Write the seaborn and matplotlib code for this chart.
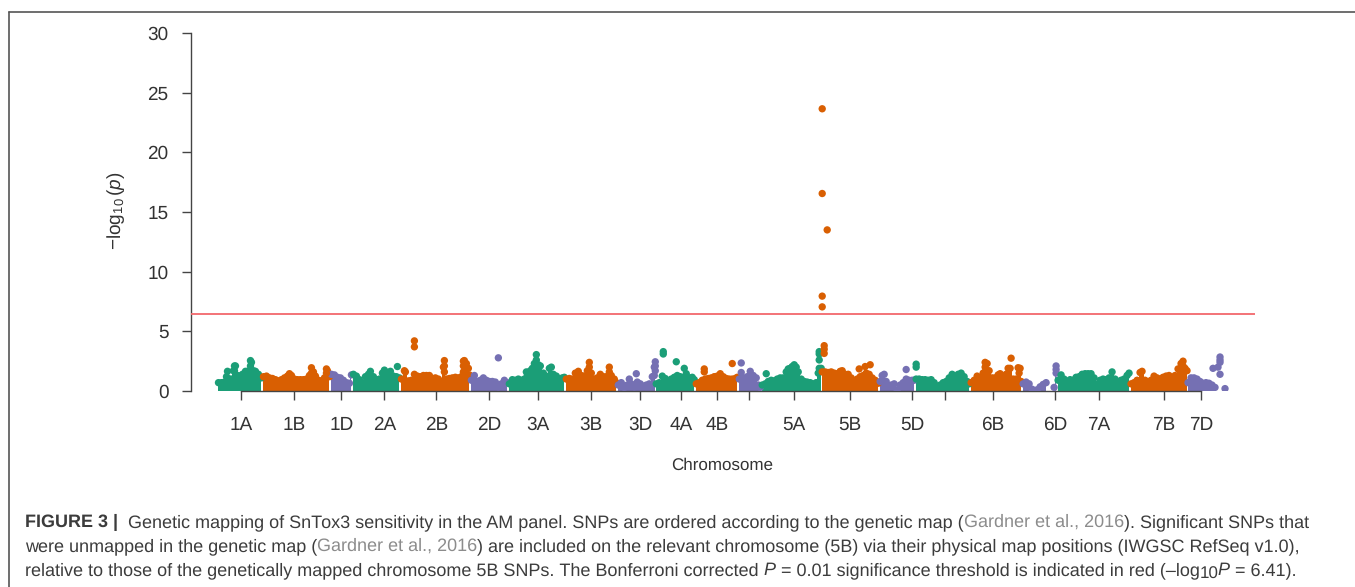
import matplotlib
matplotlib.use('Agg')
import matplotlib.pyplot as plt
from matplotlib.lines import Line2D
import numpy as np
import pandas as pd
import seaborn as sns

nan = float('nan')

# chromosome order and tick positions along the genetic map
chroms = ['1A', '1B', '1D', '2A', '2B', '2D', '3A', '3B', '3D', '4A', '4B', '4D',
          '5A', '5B', '5D', '6A', '6B', '6D', '7A', '7B', '7D']
tick_pos = [23, 76, 123, 166, 218, 271, 320, 373, 422, 463, 499, 531,
            576, 632, 694, 727, 775, 837, 881, 946, 983]
tick_labels = ['1A', '1B', '1D', '2A', '2B', '2D', '3A', '3B', '3D', '4A', '4B', '',
               '5A', '5B', '5D', '', '6B', '6D', '7A', '7B', '7D']

# upper edge of the SNP cloud per chromosome
pos_1A = [0, 3, 6, 8, 9, 11, 13, 15, 16, 17, 19, 21, 24, 27, 29, 31, 32, 33, 35, 37, 40, 43]
val_1A = [.7, .7, .75, 1.2, 1.65, 1.0, 1.0, 1.7, 2.1, 2.1, 1.3, 1.25, 1.4, 1.65, 1.65, 1.7, 2.55, 2.4, 1.7, 1.65, 1.4, 1.1]
pos_1B = [45, 48, 51, 54, 57, 60, 63, 66, 69, 71, 73, 76, 79, 82, 85, 88, 91, 93, 95, 97, 100, 103, 106, 108, 109, 111]
val_1B = [1.2, 1.25, 1.1, 1.05, .95, .85, .95, 1.1, 1.25, 1.45, 1.3, 1.0, .95, .95, .95, 1.0, 1.3, 1.95, 1.6, 1.25, .9, .85, 1.1, 1.85, 1.7, 1.2]
pos_1D = [113, 116, 119, 122, 125, 128, 131, 133]
val_1D = [1.4, 1.35, 1.15, 1.1, .9, .7, .65, 1.35]
pos_2A = [135, 138, 141, 144, 147, 150, 152, 155, 158, 161, 164, 166, 169, 172, 175, 178, 181]
val_2A = [1.4, 1.25, .95, .7, 1.2, 1.4, 1.65, 1.2, .95, 1.0, 1.5, 1.75, 1.55, 1.65, 1.25, 1.2, 1.1]
pos_2B = [183, 186, 187, 190, 193, 196, 199, 202, 205, 208, 211, 214, 217, 220, 223, 225, 226, 228, 231, 234, 237, 240, 243, 245, 246, 248, 250, 251]
val_2B = [1.0, 1.7, 1.6, .85, .9, 1.4, 1.25, 1.2, 1.3, 1.3, 1.3, 1.05, 1.1, 1.0, .8, 2.0, 2.55, 1.0, 1.05, 1.1, 1.15, 1.1, 1.2, 2.5, 2.55, 2.3, 1.9, 1.35]
pos_2D = [253, 256, 259, 262, 265, 268, 271, 274, 277, 280, 283, 286, 289]
val_2D = [.9, 1.3, .8, .9, 1.1, .9, .8, .8, .75, .35, .6, .9, .7]
pos_3A = [291, 294, 297, 300, 303, 306, 309, 312, 314, 316, 318, 320, 322, 325, 328, 331, 333, 335, 338, 341, 344, 346]
val_3A = [.6, .95, .9, 1.0, .9, 1.0, 1.3, 1.7, 1.9, 2.3, 3.05, 2.2, 2.1, 1.5, 1.25, 1.9, 2.0, 1.4, 1.25, 1.0, 1.1, 1.15]
pos_3B = [348, 351, 354, 357, 360, 363, 366, 369, 371, 373, 376, 379, 382, 385, 388, 391, 393, 396, 398]
val_3B = [1.0, 1.05, 1.0, 1.5, 1.65, 1.3, 1.25, 1.7, 2.4, 1.5, 1.0, 1.1, 1.4, 1.2, 1.2, 2.0, 1.3, 1.0, .7]
pos_3D = [400, 403, 406, 409, 411, 413, 416, 419, 422, 425, 428, 431, 434, 436, 437]
val_3D = [.5, .7, .3, .5, 1.0, .6, .35, .75, .6, .4, .5, .6, 1.2, 2.0, 2.45]
pos_4A = [438, 441, 444, 447, 450, 453, 456, 459, 462, 465, 468, 471, 474, 476]
val_4A = [.6, .7, 1.25, 1.05, .85, 1.0, 1.15, 1.3, 1.2, 1.1, 1.45, 1.1, 1.15, .95]
pos_4B = [478, 481, 484, 487, 490, 493, 496, 499, 502, 505, 508, 511, 514, 517, 519]
val_4B = [.6, .7, .9, 1.0, 1.05, 1.1, 1.2, 1.25, 1.45, 1.2, 1.05, 1.0, 1.0, 1.05, 1.15]
pos_4D = [521, 523, 525, 527, 529, 532, 535, 538, 540, 542]
val_4D = [1.0, 1.55, 1.1, .85, 1.2, 1.65, 1.3, 1.1, .5, .3]
pos_5A = [544, 547, 550, 553, 556, 559, 562, 565, 568, 570, 572, 574, 576, 578, 580, 583, 586, 589, 592, 595, 598, 600, 601, 603]
val_5A = [.5, .6, .8, .9, .85, 1.0, 1.1, 1.1, 1.6, 1.85, 1.9, 2.05, 2.2, 2.0, 1.6, 1.0, .8, .75, .7, .6, .7, 1.5, 1.9, 1.9]
pos_5B = [604, 607, 610, 613, 616, 619, 622, 624, 627, 630, 633, 636, 639, 642, 645, 648, 651, 654, 657, 660]
val_5B = [1.6, 1.6, 1.55, 1.6, 1.5, 1.45, 1.65, 1.7, 1.4, 1.4, 1.1, .8, 1.0, 1.2, 1.3, 1.5, 1.4, 1.1, .9, .65]
pos_5D = [662, 664, 666, 668, 670, 673, 676, 679, 682, 685, 688, 691, 694, 696]
val_5D = [.8, 1.3, 1.4, .8, .4, .5, .6, .1, .5, .7, 1.0, .9, .9, .9]
pos_6A = [698, 701, 704, 707, 710, 713, 716, 719, 722, 725, 728, 731, 734, 737, 740, 743, 746, 749, 751]
val_6A = [1.0, 1.0, .95, .95, .9, .95, .7, .4, .5, .7, .8, 1.1, 1.4, 1.1, 1.4, 1.5, 1.2, .8, .6]
pos_6B = [753, 756, 759, 762, 765, 767, 769, 771, 774, 777, 780, 782, 785, 788, 790, 792, 795, 798, 800, 802, 803]
val_6B = [.7, .9, 1.25, 1.1, 1.5, 2.4, 2.3, 1.7, 1.1, 1.1, 1.35, 1.45, 1.2, 1.4, 1.9, 1.9, 1.0, 1.0, 1.95, 1.9, .8]
pos_6D = [805, 808, 811, 814, 817, 819, 822, 825, 828, 832, 836, 838]
val_6D = [.6, .75, .6, .15, nan, .1, .35, .55, .7, nan, .3, 1.5]
pos_7A = [840, 843, 846, 849, 852, 855, 858, 861, 864, 867, 870, 873, 876, 879, 882, 885, 888, 891, 894, 897, 900, 903, 906, 909, 911]
val_7A = [.9, 1.35, 1.0, .8, .95, .9, 1.15, 1.2, 1.4, 1.45, 1.45, 1.45, 1.1, .55, .9, 1.0, .95, 1.1, 1.6, 1.0, .7, .9, 1.0, 1.3, 1.5]
pos_7B = [913, 916, 919, 922, 924, 927, 930, 933, 936, 939, 942, 945, 948, 951, 954, 957, 960, 963, 965, 967, 969]
val_7B = [.6, .7, .9, 1.55, 1.65, .9, .7, .9, 1.25, 1.1, 1.0, 1.15, 1.25, 1.3, .9, 1.3, 1.85, 2.3, 2.5, 1.9, 1.7]
pos_7D = [970, 973, 976, 979, 982, 985, 988, 991, 994, 997]
val_7D = [.7, 1.1, 1.1, 1.0, .8, .65, .7, .65, .5, .3]

# SNPs standing clear of the cloud
peak_chrom = ['2A', '2B', '2B', '2D', '3A', '3D', '4A', '4A', '4A', '4A', '4B', '4B', '4B', '4D',
              '5A', '5A', '5A', '5A', '5B', '5B', '5B', '5B', '5B', '5B', '5B', '5B', '5B', '5B', '5B',
              '5D', '6A', '6A', '6B', '6D', '7D', '7D', '7D', '7D', '7D', '7D', '7D']
peak_pos = [179, 196, 196, 280, 308, 418, 445, 445, 458, 466, 486, 486, 514, 523,
            601, 601, 601, 548, 641, 647, 652, 606, 606, 606, 604, 604, 609, 604, 604,
            688, 698, 698, 793, 838, 995, 1000, 1002, 1002, 1002, 1002, 1007]
peak_val = [2.05, 4.2, 3.7, 2.78, 1.6, 1.45, 3.3, 3.1, 2.45, 1.9, 1.85, 1.6, 2.3, 2.35,
            2.6, 3.3, 3.1, 1.45, 1.85, 2.05, 2.2, 3.8, 3.5, 3.15, 23.65, 16.55, 13.5, 7.95, 7.05,
            1.8, 2.25, 2.0, 2.75, 2.1, 1.9, 2.0, 2.85, 2.6, 2.4, 1.4, .2]

# SNPs inside the tall columns of the cloud
stack_chrom = ['1A', '1A', '1B', '1B', '2B', '2B', '2B', '2B', '3A', '3A', '3B', '3B', '3B',
               '3D', '3D', '3D', '6B', '6B', '6B', '6D', '7B', '7B']
stack_pos = [32, 16, 93, 108, 226, 226, 245, 245, 318, 318, 371, 371, 391,
             437, 437, 436, 767, 767, 801, 838, 965, 965]
stack_val = [2.1, 1.7, 1.5, 1.5, 2.1, 1.6, 2.1, 1.6, 2.6, 2.2, 2.0, 1.6, 1.6,
             2.1, 1.7, 1.3, 2.0, 1.6, 1.5, 1.8, 2.1, 1.7]

threshold = 6.45
genome_colors = {'A': '#1B9E77', 'B': '#D95F02', 'D': '#7570B3'}

sns.set_theme(style='white')
plt.rcParams['font.family'] = ['Liberation Sans']
plt.rcParams['text.hinting'] = 'no_hinting'
plt.rcParams['text.hinting_factor'] = 1
plt.rcParams['mathtext.fontset'] = 'custom'
plt.rcParams['mathtext.rm'] = 'Liberation Sans'
plt.rcParams['mathtext.it'] = 'Liberation Sans:italic'

frames = []
for chrom in chroms:
    frames.append(pd.DataFrame({'chrom': chrom, 'pos': globals()['pos_' + chrom], 'val': globals()['val_' + chrom]}))
body = pd.concat(frames, ignore_index=True)
peaks = pd.DataFrame({'chrom': peak_chrom, 'pos': peak_pos, 'val': peak_val})
stacks = pd.DataFrame({'chrom': stack_chrom, 'pos': stack_pos, 'val': stack_val})
df = pd.concat([body.dropna(), peaks, stacks], ignore_index=True)
df['genome'] = df['chrom'].str[1]

W, H = 1355, 587
fig = plt.figure(figsize=(W / 100, H / 100), dpi=100)
ax = fig.add_axes([190.5 / W, (H - 391) / H, 1064.5 / W, 358 / H])

# the cloud is solid below its upper edge
for chrom, group in body.groupby('chrom', sort=False):
    ax.fill_between(group['pos'], 0, group['val'], step='mid', color=genome_colors[chrom[1]], linewidth=0, zorder=2)

sns.scatterplot(data=df, x='pos', y='val', hue='genome', palette=genome_colors,
                s=28, linewidth=0, legend=False, zorder=3, ax=ax)
ax.axhline(threshold, color='#F2686C', linewidth=1.3, zorder=4)

ax.set_xlim(-28, 1037)
ax.set_ylim(0, 30)
ax.set_xticks(tick_pos)
ax.set_xticklabels(tick_labels, va='baseline')
ax.set_yticks(np.arange(0, 31, 5))
sns.despine(ax=ax)
ax.spines['left'].set_bounds(0, 30)
ax.spines['bottom'].set_bounds(tick_pos[0], tick_pos[-1])
for side in ['left', 'bottom']:
    ax.spines[side].set_color('#444444')
    ax.spines[side].set_linewidth(1.0)
ax.tick_params(axis='y', left=True, length=6.8, width=1.0, color='#444444', labelsize=13.5,
               labelcolor='#333333', pad=9)
ax.tick_params(axis='x', bottom=True, length=6.8, width=1.0, color='#444444', labelsize=13.5,
               labelcolor='#333333', pad=21)
ax.set_xlabel('Chromosome', fontsize=12.5, color='#333333')
ax.xaxis.set_label_coords(0.4995, -0.187)
ax.set_ylabel(r'$-\log_{10}(\mathit{p})$', fontsize=13.5, color='#333333')
ax.yaxis.set_label_coords(-0.06, 0.505)

# panel frame
fig.add_artist(Line2D([8.5 / W, 8.5 / W], [0, 1 - 11.5 / H], color='#555555', linewidth=1.2))
fig.add_artist(Line2D([8.5 / W, 1], [1 - 11.5 / H, 1 - 11.5 / H], color='#555555', linewidth=1.2))

# caption, set run by run so the citations and the italics can differ
body_c = '#3C3C3C'
cite_c = '#8C8C8C'
cap_size = 13.0
line_1 = [('FIGURE 3 |  ', 'bold', 'normal', body_c, 0),
          ('Genetic mapping of SnTox3 sensitivity in the AM panel. SNPs are ordered according to the genetic map (', 'normal', 'normal', body_c, 0),
          ('Gardner et al., 2016', 'normal', 'normal', cite_c, 0),
          ('). Significant SNPs that', 'normal', 'normal', body_c, 0)]
line_2 = [('were unmapped in the genetic map (', 'normal', 'normal', body_c, 0),
          ('Gardner et al., 2016', 'normal', 'normal', cite_c, 0),
          (') are included on the relevant chromosome (5B) via their physical map positions (IWGSC RefSeq v1.0),', 'normal', 'normal', body_c, 0)]
line_3 = [('relative to those of the genetically mapped chromosome 5B SNPs. The Bonferroni corrected ', 'normal', 'normal', body_c, 0),
          ('P ', 'normal', 'italic', body_c, 0),
          ('= 0.01 significance threshold is indicated in red (\u2013log', 'normal', 'normal', body_c, 0),
          ('10', 'normal', 'normal', body_c, 1),
          ('P ', 'normal', 'italic', body_c, 0),
          ('= 6.41).', 'normal', 'normal', body_c, 0)]

renderer = fig.canvas.get_renderer()


def run_width(s, **kw):
    # a closing dot keeps trailing spaces in the measured width
    a = fig.text(0, 0, s + '.', **kw)
    b = fig.text(0, 0, '.', **kw)
    w = a.get_window_extent(renderer).width - b.get_window_extent(renderer).width
    a.remove()
    b.remove()
    return w


for line, base in [(line_1, 527), (line_2, 551), (line_3, 575)]:
    x = 25.0
    for s, weight, style, color, sub in line:
        kw = dict(fontweight=weight, fontstyle=style, fontsize=cap_size * (0.92 if sub else 1))
        fig.text(x / W, 1 - (base + (4 if sub else 0)) / H, s, color=color, va='baseline', ha='left', **kw)
        x += run_width(s, **kw)

plt.savefig('out.png', dpi=100)
